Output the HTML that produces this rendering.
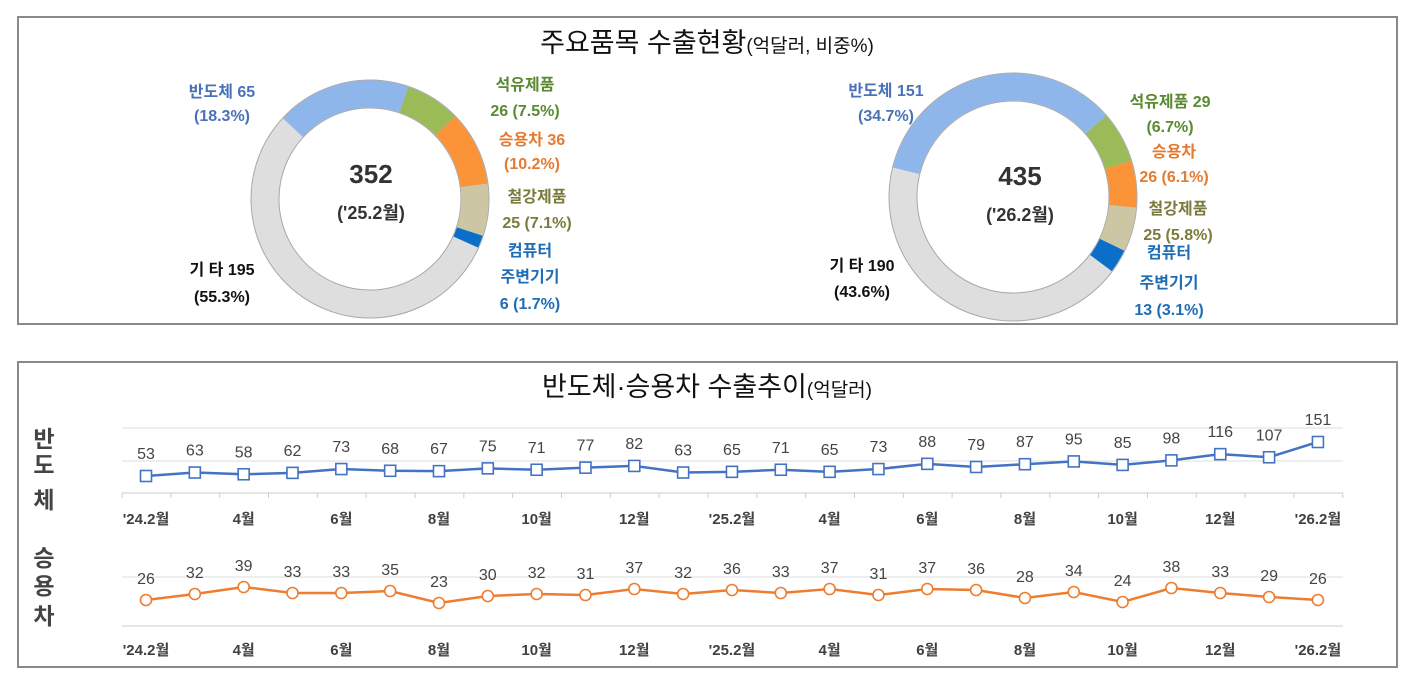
<!DOCTYPE html>
<html><head><meta charset="utf-8"><style>
body{margin:0;background:#fff;width:1406px;height:690px;overflow:hidden}
svg text{font-family:"Liberation Sans","Noto Sans CJK KR",sans-serif}
</style></head><body>
<svg id="s" width="1406" height="690" viewBox="0 0 1406 690" xmlns="http://www.w3.org/2000/svg">
<rect x="18" y="17" width="1379" height="307" fill="#fff" stroke="#8a8a8a" stroke-width="2"/>
<rect x="18" y="362" width="1379" height="305" fill="#fff" stroke="#8a8a8a" stroke-width="2"/>
<text x="707" y="52" text-anchor="middle" font-size="27" fill="#111">주요품목 수출현황<tspan font-size="19">(억달러, 비중%)</tspan></text>
<text x="707" y="396" text-anchor="middle" font-size="27" fill="#111">반도체·승용차 수출추이<tspan font-size="19">(억달러)</tspan></text>

<g transform="rotate(223 370 199)" fill="none" stroke-width="27">
<circle cx="370" cy="199" r="105" stroke="#a8a8a8" stroke-width="29" pathLength="100"/>
<circle cx="370" cy="199" r="105" stroke="#dedede" pathLength="100"/>
<circle cx="370" cy="199" r="105" stroke="#8fb6ea" pathLength="100" stroke-dasharray="18.3 81.7" stroke-dashoffset="0"/>
<circle cx="370" cy="199" r="105" stroke="#9bbb59" pathLength="100" stroke-dasharray="7.5 92.5" stroke-dashoffset="-18.3"/>
<circle cx="370" cy="199" r="105" stroke="#fb9339" pathLength="100" stroke-dasharray="10.2 89.8" stroke-dashoffset="-25.8"/>
<circle cx="370" cy="199" r="105" stroke="#cdc6a4" pathLength="100" stroke-dasharray="7.1 92.9" stroke-dashoffset="-36"/>
<circle cx="370" cy="199" r="105" stroke="#0a6fc8" pathLength="100" stroke-dasharray="1.7 98.3" stroke-dashoffset="-43.1"/>
</g>
<g transform="rotate(194 1013 197)" fill="none" stroke-width="27">
<circle cx="1013" cy="197" r="110" stroke="#a8a8a8" stroke-width="29" pathLength="100"/>
<circle cx="1013" cy="197" r="110" stroke="#dedede" pathLength="100"/>
<circle cx="1013" cy="197" r="110" stroke="#8fb6ea" pathLength="100" stroke-dasharray="34.7 65.3" stroke-dashoffset="0"/>
<circle cx="1013" cy="197" r="110" stroke="#9bbb59" pathLength="100" stroke-dasharray="6.7 93.3" stroke-dashoffset="-34.7"/>
<circle cx="1013" cy="197" r="110" stroke="#fb9339" pathLength="100" stroke-dasharray="6.1 93.9" stroke-dashoffset="-41.4"/>
<circle cx="1013" cy="197" r="110" stroke="#cdc6a4" pathLength="100" stroke-dasharray="5.8 94.2" stroke-dashoffset="-47.5"/>
<circle cx="1013" cy="197" r="110" stroke="#0a6fc8" pathLength="100" stroke-dasharray="3.1 96.9" stroke-dashoffset="-53.3"/>
</g>
<g font-weight="bold" text-anchor="middle" fill="#333">
<text x="371" y="183" font-size="26">352</text>
<text x="371" y="219" font-size="18">('25.2월)</text>
<text x="1020" y="185" font-size="26">435</text>
<text x="1020" y="221" font-size="18">('26.2월)</text>
</g>
<g font-size="16" text-anchor="middle" font-weight="bold">
<text x="222" y="97" fill="#4a72b8">반도체 65</text>
<text x="222" y="121" fill="#4a72b8">(18.3%)</text>
<text x="525" y="90" fill="#5a8a32">석유제품</text>
<text x="525" y="116" fill="#5a8a32">26 (7.5%)</text>
<text x="532" y="145" fill="#e57a32">승용차 36</text>
<text x="532" y="169" fill="#e57a32">(10.2%)</text>
<text x="537" y="202" fill="#7b7b3e">철강제품</text>
<text x="537" y="228" fill="#7b7b3e">25 (7.1%)</text>
<text x="530" y="256" fill="#1f6db5">컴퓨터</text>
<text x="530" y="282" fill="#1f6db5">주변기기</text>
<text x="530" y="309" fill="#1f6db5">6 (1.7%)</text>
<text x="222" y="275" fill="#111">기 타 195</text>
<text x="222" y="302" fill="#111">(55.3%)</text>
<text x="886" y="96" fill="#4a72b8">반도체 151</text>
<text x="886" y="121" fill="#4a72b8">(34.7%)</text>
<text x="1170" y="107" fill="#5a8a32">석유제품 29</text>
<text x="1170" y="132" fill="#5a8a32">(6.7%)</text>
<text x="1174" y="157" fill="#e57a32">승용차</text>
<text x="1174" y="182" fill="#e57a32">26 (6.1%)</text>
<text x="1178" y="214" fill="#7b7b3e">철강제품</text>
<text x="1178" y="240" fill="#7b7b3e">25 (5.8%)</text>
<text x="1169" y="258" fill="#1f6db5">컴퓨터</text>
<text x="1169" y="288" fill="#1f6db5">주변기기</text>
<text x="1169" y="315" fill="#1f6db5">13 (3.1%)</text>
<text x="862" y="271" fill="#111">기 타 190</text>
<text x="862" y="297" fill="#111">(43.6%)</text>
</g>
<g font-size="23" font-weight="bold" fill="#444" text-anchor="middle">
<text x="44" y="447">반</text><text x="44" y="473">도</text><text x="44" y="508">체</text>
<text x="44" y="566">승</text><text x="44" y="594">용</text><text x="44" y="624">차</text>
</g>
<g id="lc"></g>
</svg>
<script>
var g=document.getElementById('lc'),h='';
var a=[53,63,58,62,73,68,67,75,71,77,82,63,65,71,65,73,88,79,87,95,85,98,116,107,151];
var b=[26,32,39,33,33,35,23,30,32,31,37,32,36,33,37,31,37,36,28,34,24,38,33,29,26];
var X=function(i){return 146+i*48.83};
h+='<line x1="122" x2="1343" y1="428" y2="428" stroke="#ddd"/><line x1="122" x2="1343" y1="461" y2="461" stroke="#ddd"/><line x1="122" x2="1343" y1="493" y2="493" stroke="#ccc"/>';
h+='<line x1="122" x2="1343" y1="577" y2="577" stroke="#ddd"/><line x1="122" x2="1343" y1="626" y2="626" stroke="#ccc"/>';
for(var k=0;k<=25;k++){var x=122+k*48.83;h+='<line x1="'+x+'" x2="'+x+'" y1="493" y2="498" stroke="#ccc"/>';}
var labs={0:"'24.2월",2:"4월",4:"6월",6:"8월",8:"10월",10:"12월",12:"'25.2월",14:"4월",16:"6월",18:"8월",20:"10월",22:"12월",24:"'26.2월"};
var pa='',pb='';
for(var i=0;i<25;i++){var x=X(i);var ya=476-(a[i]-53)*0.347,yb=600-(b[i]-26);pa+=(i?'L':'M')+x+' '+ya;pb+=(i?'L':'M')+x+' '+yb;}
h+='<path d="'+pa+'" fill="none" stroke="#4472c4" stroke-width="2.5"/><path d="'+pb+'" fill="none" stroke="#ed7d31" stroke-width="2.5"/>';
for(var i=0;i<25;i++){var x=X(i);var ya=476-(a[i]-53)*0.347,yb=600-(b[i]-26);
h+='<rect x="'+(x-5.5)+'" y="'+(ya-5.5)+'" width="11" height="11" fill="#fff" stroke="#4472c4" stroke-width="1.6"/>';
h+='<circle cx="'+x+'" cy="'+yb+'" r="5.5" fill="#fff" stroke="#ed7d31" stroke-width="1.6"/>';
h+='<text x="'+x+'" y="'+(ya-17)+'" text-anchor="middle" font-size="16" fill="#444">'+a[i]+'</text>';
h+='<text x="'+x+'" y="'+(yb-16)+'" text-anchor="middle" font-size="16" fill="#444">'+b[i]+'</text>';
if(labs[i]!==undefined){h+='<text x="'+x+'" y="524" text-anchor="middle" font-size="15" font-weight="bold" fill="#404040">'+labs[i]+'</text>';
h+='<text x="'+x+'" y="655" text-anchor="middle" font-size="15" font-weight="bold" fill="#404040">'+labs[i]+'</text>';}}
g.innerHTML=h;
</script>
</body></html>
